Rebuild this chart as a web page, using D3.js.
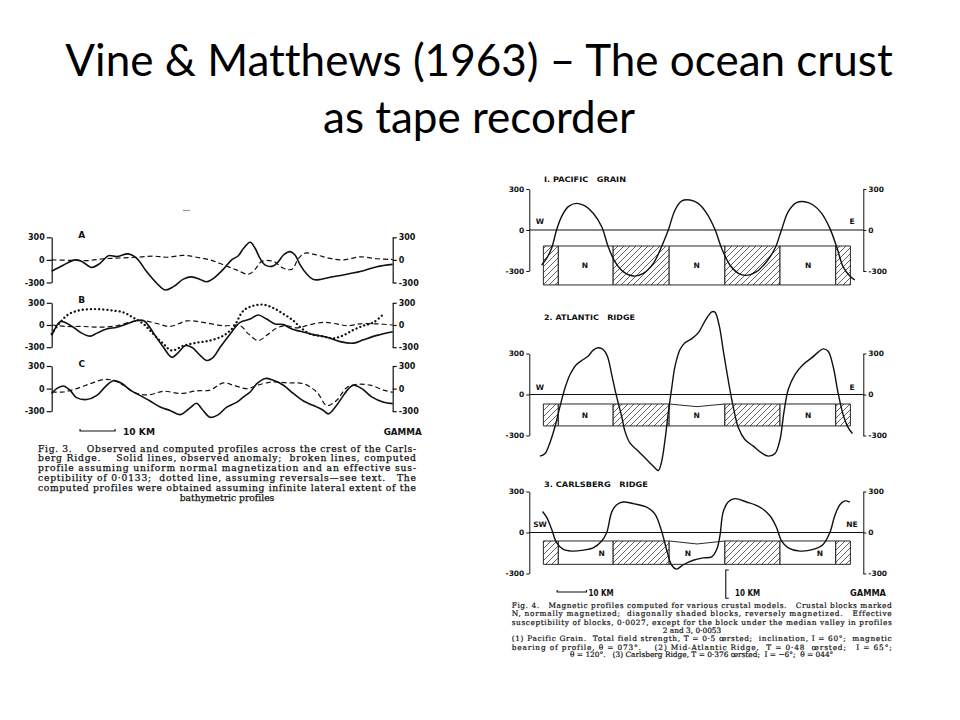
<!DOCTYPE html>
<html><head><meta charset="utf-8">
<script src="https://cdn.jsdelivr.net/npm/d3@7"></script>
<style>body{margin:0;background:#fff}svg{display:block}text{font-variant-ligatures:none;font-feature-settings:"liga" 0}</style>
</head><body><svg id="c" width="960" height="720"></svg>
<script>
// ---------------- DATA ----------------
const titleLines = ["Vine & Matthews (1963) – The ocean crust", "as tape recorder"];

// Fig. 3 (distance km, anomaly gamma)
const fig3Ticks = [300, 0, -300];
const fig3PanelLabels = ["A", "B", "C"];
const fig3A_observed = [[0,-150],[3.3,-70],[6.7,0],[8.6,-20],[11.4,-100],[13.8,-45],[16.2,55],[18.6,45],[21.9,80],[24.3,20],[27.1,-155],[30.0,-310],[32.4,-400],[34.8,-355],[37.6,-255],[40.0,-225],[42.4,-260],[44.3,-290],[46.2,-245],[49.0,-125],[51.4,0],[53.3,55],[54.8,155],[56.7,235],[58.1,155],[59.5,20],[61.0,-70],[63.3,-80],[64.8,-20],[66.2,65],[68.1,110],[69.5,65],[71.0,-70],[72.9,-190],[74.8,-260],[76.7,-260],[79.5,-230],[83.3,-200],[88.1,-155],[92.9,-90],[97.4,-60]];
const fig3A_uniform = [[0,0],[5.2,-5],[10.0,-10],[14.8,15],[19.5,25],[24.3,35],[29.0,50],[32.9,35],[37.6,60],[41.4,35],[45.2,0],[49.0,-65],[52.9,-135],[56.2,-190],[58.1,-125],[60.0,-20],[63.3,-20],[66.2,-110],[68.6,-125],[70.5,20],[72.4,90],[75.7,65],[79.5,20],[83.3,0],[88.1,40],[92.9,15],[97.4,5]];
const fig3B_observed = [[0,-140],[2.4,45],[3.8,35],[6.2,-30],[8.6,-110],[11.0,-150],[12.9,-110],[15.7,-55],[18.6,-30],[21.4,15],[24.3,60],[26.2,60],[27.6,-5],[29.5,-140],[31.9,-300],[34.3,-435],[36.2,-370],[38.1,-280],[40.0,-300],[42.4,-410],[44.3,-480],[46.2,-435],[48.1,-300],[51.0,-120],[53.8,35],[56.7,80],[59.0,135],[61.4,80],[63.8,15],[66.2,5],[68.6,-55],[71.0,-85],[74.8,-130],[78.6,-165],[82.4,-225],[86.2,-245],[89.0,-200],[92.9,-140],[97.4,-90]];
const fig3B_uniform = [[0,0],[4.3,-20],[9.0,-20],[13.8,-30],[18.6,-10],[23.3,50],[26.2,60],[30.0,20],[33.8,-20],[38.6,55],[43.3,35],[49.0,-10],[53.8,-10],[56.2,-120],[59.0,-210],[61.4,-140],[64.3,-40],[67.1,-10],[70.0,-40],[73.8,5],[77.6,35],[81.4,15],[84.3,-10],[88.1,15],[92.9,15],[97.4,0]];
const fig3B_reversals = [[0,-120],[2.4,35],[4.8,145],[8.1,200],[11.9,215],[16.7,200],[20.5,170],[23.3,100],[26.2,15],[29.0,-120],[31.9,-255],[34.3,-345],[37.6,-280],[41.4,-240],[45.2,-210],[49.0,-145],[51.9,-30],[54.8,195],[57.6,260],[60.5,275],[63.3,230],[66.2,150],[69.0,60],[71.0,-30],[73.8,-120],[77.6,-155],[80.5,-180],[83.3,-140],[86.2,-65],[89.0,-10],[91.9,35],[94.3,125]];
const fig3C_observed = [[0,-65],[1.4,0],[3.3,35],[5.2,-20],[7.1,-120],[10.0,-145],[12.9,-90],[15.2,20],[17.6,105],[20.0,70],[22.4,-20],[25.2,-90],[28.1,-165],[31.0,-245],[33.8,-290],[36.7,-345],[39.5,-255],[41.4,-195],[42.9,-270],[45.2,-380],[47.6,-345],[50.0,-245],[52.9,-180],[54.8,-110],[56.7,-45],[58.6,65],[61.0,135],[63.3,110],[66.2,45],[69.0,-65],[71.9,-165],[74.8,-225],[77.6,-290],[79.0,-335],[81.0,-245],[82.9,-120],[84.8,0],[86.2,45],[88.6,0],[91.4,-110],[94.8,-180],[97.4,-200]];
const fig3C_uniform = [[0,-45],[3.3,-45],[7.1,0],[11.0,65],[14.8,120],[17.6,110],[20.5,45],[24.3,-65],[28.1,-80],[31.9,-35],[36.7,-65],[41.4,-30],[45.2,-20],[49.0,75],[51.9,45],[55.7,0],[59.5,55],[63.3,90],[67.1,75],[71.9,65],[75.7,-45],[78.6,-225],[81.4,-155],[84.3,15],[87.1,55],[91.0,45],[94.8,-20],[97.4,-50]];
const fig3Caption = [
  "Fig. 3.    Observed and computed profiles across the crest of the Carls-",
  "berg Ridge.    Solid lines, observed anomaly;  broken lines, computed",
  "profile assuming uniform normal magnetization and an effective sus-",
  "ceptibility of 0·0133;  dotted line, assuming reversals—see text.   The",
  "computed profiles were obtained assuming infinite lateral extent of the",
  "bathymetric profiles"];

// Fig. 4 (distance km, anomaly gamma)
const fig4Ticks = [300, 0, -300];
const fig4Titles = ["I. PACIFIC   GRAIN", "2. ATLANTIC   RIDGE", "3. CARLSBERG   RIDGE"];
const fig4Ends = [["W","E"],["W","E"],["SW","NE"]];
const fig4Pacific = [[4.2,-256],[5.9,-207],[7.6,-134],[9.3,0],[11.0,98],[13.3,171],[16.1,195],[19.0,176],[21.8,122],[24.7,24],[26.9,-122],[29.2,-232],[32.0,-305],[35.5,-337],[38.9,-317],[42.3,-244],[45.1,-122],[47.4,0],[49.7,146],[51.9,212],[54.8,220],[57.6,195],[60.5,122],[63.3,5],[65.6,-134],[68.4,-256],[71.3,-317],[74.1,-332],[77.5,-305],[80.9,-232],[83.8,-134],[86.0,0],[88.3,134],[91.1,200],[94.0,207],[96.8,183],[99.7,122],[102.5,12],[104.8,-122],[107.0,-268],[109.3,-337],[111.0,-366]];
const fig4Atlantic = [[3.6,-451],[5.3,-434],[7.0,-354],[8.8,-232],[10.5,-85],[12.2,49],[13.9,146],[16.1,220],[18.4,256],[20.1,281],[21.8,325],[23.5,342],[25.2,329],[26.6,281],[28.1,146],[29.2,37],[30.3,-61],[31.5,-159],[32.6,-268],[34.3,-354],[37.2,-415],[40.0,-476],[42.3,-525],[44.0,-556],[45.1,-493],[46.3,-329],[47.4,-134],[48.5,37],[49.7,207],[51.4,329],[53.1,378],[55.3,407],[57.6,451],[59.9,537],[62.2,605],[63.3,603],[64.8,500],[66.1,329],[67.8,110],[69.5,-85],[71.3,-244],[73.5,-329],[76.4,-378],[79.2,-427],[81.5,-451],[83.8,-432],[85.5,-329],[86.8,-134],[88.3,37],[90.6,146],[93.4,220],[96.3,268],[98.5,310],[100.2,334],[101.9,317],[103.6,207],[105.3,12],[107.0,-146],[108.8,-244],[110.2,-285]];
const fig4Carlsberg = [[4.5,154],[5.9,112],[7.6,25],[9.3,-74],[11.6,-124],[14.4,-136],[18.4,-129],[21.8,-112],[24.7,-62],[26.4,0],[28.1,149],[29.8,203],[32.0,223],[35.5,211],[40.0,186],[42.8,136],[45.1,12],[46.8,-124],[48.5,-236],[50.2,-268],[52.5,-236],[55.9,-203],[59.3,-186],[62.2,-178],[63.9,-124],[65.0,-25],[66.1,149],[67.8,223],[70.1,248],[74.1,223],[78.6,186],[82.0,124],[84.3,37],[86.0,-62],[88.3,-112],[92.3,-136],[96.8,-124],[100.2,-87],[102.5,0],[104.2,124],[105.9,203],[107.6,231],[109.3,223]];
const blockEdges = [4.8, 9.9, 28.6, 47.7, 66.7, 85.5, 104.5, 109.5];
const blockPolarity = ["R","N","R","N","R","N","R"];
const blockTop = [-117, -69.5, -62];
const blockBottom = [-402, -230, -233];
const valleyDip = [-117, -89, -84];
const nLabelKm = [[19.0, 57.1, 95.1],[19.0, 57.1, 95.1],[24.7, 54.1, 99.1]];
const fig4Caption = [
  "Fig. 4.   Magnetic profiles computed for various crustal models.   Crustal blocks marked",
  "N, normally magnetized;  diagonally shaded blocks, reversely magnetized.   Effective",
  "susceptibility of blocks, 0·0027, except for the block under the median valley in profiles",
  "2 and 3, 0·0053",
  "(1) Pacific Grain.  Total field strength, T = 0·5 œrsted;  inclination, I = 60°;  magnetic",
  "bearing of profile, θ = 073°.    (2) Mid-Atlantic Ridge,  T = 0·48  œrsted;   I = 65°;",
  "θ = 120°.   (3) Carlsberg Ridge, T = 0·376 œrsted;  I = −6°;  θ = 044°"];

// ---------------- DRAW ----------------
const svg = d3.select("#c");
const ink = "#111";
const labFont = "'DejaVu Sans', sans-serif";
const capFont = "'DejaVu Serif', 'Liberation Serif', serif";

const defs = svg.append("defs");
defs.append("pattern").attr("id","hatch").attr("patternUnits","userSpaceOnUse")
  .attr("width",6).attr("height",6)
  .append("path").attr("d","M-1,1 l2,-2 M0,6 l6,-6 M5,7 l2,-2")
  .attr("stroke","#222").attr("stroke-width",0.7);

function txt(g, x, y, s, o = {}) {
  const t = g.append("text").attr("x", x).attr("y", y).text(s)
    .attr("font-family", o.font || labFont).attr("font-size", o.size || 8)
    .attr("font-weight", o.weight || "bold").attr("fill", o.fill || ink)
    .attr("text-anchor", o.anchor || "start").style("white-space","pre");
  if (o.stroke) t.attr("stroke", o.fill || ink).attr("stroke-width", o.stroke);
  if (o.len) t.attr("textLength", o.len).attr("lengthAdjust", o.adj || "spacingAndGlyphs");
  return t;
}

// Title
titleLines.forEach((s, i) => {
  txt(svg, 479, [76, 133][i], s, {font:"Lato, 'Open Sans', sans-serif", size:44, weight:"normal", fill:"#000", anchor:"middle"});
});

// ---------- Fig 3 ----------
const g3 = svg.append("g");
const x3 = d3.scaleLinear().domain([0, 97.4]).range([51.7, 392.7]);
const f3Panels = [
  {lab:fig3PanelLabels[0], top:237.3, bot:282.5, series:[[fig3A_observed,"solid"],[fig3A_uniform,"dash"]]},
  {lab:fig3PanelLabels[1], top:302.8, bot:347.2, series:[[fig3B_observed,"solid"],[fig3B_uniform,"dash"],[fig3B_reversals,"dot"]]},
  {lab:fig3PanelLabels[2], top:366.0, bot:411.2, series:[[fig3C_observed,"solid"],[fig3C_uniform,"dash"]]}
];
const styleLine = (p, kind) => {
  p.attr("fill","none").attr("stroke",ink);
  if (kind === "solid") p.attr("stroke-width",1.6);
  if (kind === "dash") p.attr("stroke-width",1.2).attr("stroke-dasharray","5,3");
  if (kind === "dot") p.attr("stroke-width",2.3).attr("stroke-dasharray","0.1,4").attr("stroke-linecap","round");
};
const fmt = d => d === 0 ? "0" : String(d);
f3Panels.forEach(pn => {
  const y = d3.scaleLinear().domain([-300, 300]).range([pn.bot, pn.top]);
  const la = g3.append("g").attr("transform", `translate(${x3.range()[0]},0)`)
    .call(d3.axisLeft(y).tickValues(fig3Ticks).tickSize(5).tickSizeOuter(0).tickPadding(2).tickFormat(fmt));
  const ra = g3.append("g").attr("transform", `translate(${x3.range()[1]},0)`)
    .call(d3.axisRight(y).tickValues(fig3Ticks).tickSize(4).tickSizeOuter(0).tickPadding(2).tickFormat(fmt));
  [la, ra].forEach(a => {
    a.select(".domain").attr("stroke", ink).attr("stroke-width", 1.2);
    a.selectAll(".tick line").attr("stroke", ink).attr("stroke-width", 1.2);
    a.selectAll(".tick text").attr("font-family", labFont).attr("font-weight","bold").attr("font-size", 8).attr("fill", ink);
  });
  txt(g3, 81.7, pn.top + 0.5, pn.lab, {size:9, anchor:"middle"});
  const line = d3.line().x(d => x3(d[0])).y(d => y(d[1])).curve(d3.curveCatmullRom.alpha(0.5));
  pn.series.forEach(([data, kind]) => styleLine(g3.append("path").attr("d", line(data)), kind));
});
// stray scan mark
g3.append("line").attr("x1",183).attr("x2",190).attr("y1",210.5).attr("y2",210.5).attr("stroke","#999").attr("stroke-width",1.2);
// scale bar
const sb3 = [x3(8.1), x3(18.1)], sy3 = 431;
g3.append("path").attr("d", `M${sb3[0]},${sy3-2}V${sy3}H${sb3[1]}V${sy3-2}`).attr("fill","none").attr("stroke",ink).attr("stroke-width",1.2);
txt(g3, 123, sy3 + 3.5, "10 KM", {size:8.5, len:32});
txt(g3, 421.7, sy3 + 3.5, "GAMMA", {size:8.5, anchor:"end", len:38});
// caption
fig3Caption.forEach((s, i) => {
  const yb = 451.5 + i * 9.8;
  const o = {font:capFont, size:9.2, weight:"normal", fill:"#111", stroke:0.25};
  if (i < fig3Caption.length - 1) txt(g3, 38, yb, s, {...o, len:378, adj:"spacing"});
  else txt(g3, 227, yb, s, {...o, anchor:"middle"});
});

// ---------- Fig 4 ----------
const g4 = svg.append("g");
const x4 = d3.scaleLinear().domain([0, 113.9]).range([529.3, 863.3]);
const f4Panels = [
  {zero:230, top:189, bot:271, data:fig4Pacific, titleY:181.5, endY:224},
  {zero:394.5, top:353.5, bot:435.5, data:fig4Atlantic, titleY:320, endY:390},
  {zero:532.5, top:491.5, bot:573.5, data:fig4Carlsberg, titleY:486.5, endY:526.5}
];
f4Panels.forEach((pn, i) => {
  const y = d3.scaleLinear().domain([-300, 300]).range([pn.bot, pn.top]);
  const la = g4.append("g").attr("transform", `translate(${x4.range()[0]},0)`)
    .call(d3.axisLeft(y).tickValues(fig4Ticks).tickSize(3).tickSizeOuter(0).tickPadding(2).tickFormat(fmt));
  const ra = g4.append("g").attr("transform", `translate(${x4.range()[1]},0)`)
    .call(d3.axisRight(y).tickValues(fig4Ticks).tickSize(3).tickSizeOuter(0).tickPadding(2).tickFormat(fmt));
  [la, ra].forEach(a => {
    a.select(".domain").attr("stroke", ink).attr("stroke-width", 1);
    a.selectAll(".tick line").attr("stroke", ink).attr("stroke-width", 1);
    a.selectAll(".tick text").attr("font-family", labFont).attr("font-weight","bold").attr("font-size", 7.5).attr("fill", ink);
  });
  // zero line
  g4.append("line").attr("x1", x4.range()[0]).attr("x2", x4.range()[1]).attr("y1", y(0)).attr("y2", y(0))
    .attr("stroke", ink).attr("stroke-width", 1);
  // blocks
  blockPolarity.forEach((pol, b) => {
    const a = x4(blockEdges[b]), c = x4(blockEdges[b+1]);
    const t = y(blockTop[i]), bt = y(blockBottom[i]);
    let d;
    if (b === 3) d = `M${a},${t}L${(a+c)/2},${y(valleyDip[i])}L${c},${t}L${c},${bt}L${a},${bt}Z`;
    else d = `M${a},${t}L${c},${t}L${c},${bt}L${a},${bt}Z`;
    g4.append("path").attr("d", d).attr("fill", "#fff").attr("stroke", "none");
    if (pol === "R") g4.append("path").attr("d", d).attr("fill", "url(#hatch)").attr("stroke","none");
    g4.append("path").attr("d", d).attr("fill", "none").attr("stroke", ink).attr("stroke-width", 0.9);
  });
  nLabelKm[i].forEach(k => txt(g4, x4(k), (y(blockTop[i]) + y(blockBottom[i])) / 2 + 3, "N", {size:7.5, anchor:"middle"}));
  // curve
  const line = d3.line().x(d => x4(d[0])).y(d => y(d[1])).curve(d3.curveCatmullRom.alpha(0.5));
  g4.append("path").attr("d", line(pn.data)).attr("fill","none").attr("stroke", ink).attr("stroke-width", 1.4);
  // titles & ends
  txt(g4, 544, pn.titleY, fig4Titles[i], {size:7.5, len: i === 0 ? 82 : i === 1 ? 91 : 104});
  txt(g4, 540, pn.endY, fig4Ends[i][0], {size:7.5, anchor:"middle"});
  txt(g4, 852, pn.endY, fig4Ends[i][1], {size:7.5, anchor:"middle"});
});
// scale bars
const sb4 = [x4(9.5), x4(19.5)], sy4 = 592;
g4.append("path").attr("d", `M${sb4[0]},${sy4-2}V${sy4}H${sb4[1]}V${sy4-2}`).attr("fill","none").attr("stroke",ink).attr("stroke-width",1.1);
txt(g4, 588.5, sy4 + 3.5, "10 KM", {size:8, len:25});
const vb = x4(67.0), vh = x4(10) - x4(0);
g4.append("path").attr("d", `M${vb+3},${570}H${vb}V${570+vh-1}H${vb+3}`).attr("fill","none").attr("stroke",ink).attr("stroke-width",1.1);
txt(g4, 735, sy4 + 3.5, "10 KM", {size:8, len:25});
txt(g4, 886, sy4 + 3.5, "GAMMA", {size:8, anchor:"end", len:36});
// caption
const cap4Y = [608, 616.3, 625, 633, 641.3, 649.6, 657.3];
fig4Caption.forEach((s, i) => {
  const o = {font:capFont, size:7.4, weight:"normal", fill:"#111", stroke:0.2};
  if (i === 3) txt(g4, 692, cap4Y[i], s, {...o, anchor:"middle"});
  else if (i === 6) txt(g4, 701.7, cap4Y[i], s, {...o, anchor:"middle"});
  else txt(g4, 511.7, cap4Y[i], s, {...o, len:380, adj:"spacing"});
});
</script>
</body></html>
